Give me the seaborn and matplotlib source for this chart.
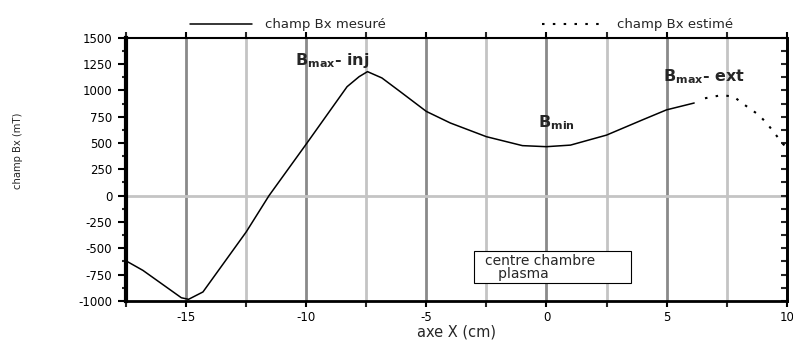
import matplotlib
matplotlib.use("Agg")
import matplotlib.pyplot as plt
import seaborn as sns
import pandas as pd
from matplotlib.ticker import MultipleLocator
from matplotlib.patches import Rectangle

# measured field
x_mes = [-17.5, -16.8, -15.2, -14.9, -14.3, -12.5, -11.55, -10, -8.3, -7.8, -7.45,
         -6.85, -6.1, -5, -4, -2.5, -1, 0, 1, 2.5, 4, 5, 6.15]
y_mes = [-620, -710, -970, -985, -915, -345, 0, 490, 1035, 1130, 1178,
         1118, 990, 800, 690, 560, 475, 465, 480, 575, 720, 815, 880]
# estimated field
x_est = [6.6, 7.3, 7.8, 8.2, 8.85, 9.2, 9.85, 10.0]
y_est = [925, 955, 940, 870, 765, 680, 490, 460]

labels = ["champ Bx mesuré", "champ Bx estimé"]
x_ticks = [-15, -10, -5, 0, 5, 10]
y_ticks = list(range(-1000, 1501, 250))

sns.set_style("white")
plt.rcParams['font.family'] = ['DejaVu Sans']
plt.rcParams['axes.unicode_minus'] = False

df_mes = pd.DataFrame({"x": x_mes, "y": y_mes})
df_est = pd.DataFrame({"x": x_est, "y": y_est})

fig = plt.figure(figsize=(7.93, 3.40), dpi=100)
ax = fig.add_axes([0.159, 0.115, 0.833, 0.774])

# grid lines
for gx in [-15, -12.5, -10, -7.5, -5, -2.5, 0, 2.5, 5, 7.5]:
    col = "#8a8a8a" if gx % 5 == 0 else "#c4c4c4"
    ax.axvline(gx, color=col, lw=2.0, zorder=0)
ax.axhline(0, color="#c4c4c4", lw=2.0, zorder=0)

sns.lineplot(data=df_mes, x="x", y="y", ax=ax, color="black", lw=1.1,
             label=labels[0], sort=False)
sns.lineplot(data=df_est, x="x", y="y", ax=ax, color="black", lw=1.5,
             label=labels[1], sort=False, linestyle=(0, (1.2, 4)))

ax.set_xlim(-17.5, 10)
ax.set_ylim(-1000, 1500)
ax.set_xticks(x_ticks)
ax.set_yticks(y_ticks)
ax.xaxis.set_minor_locator(MultipleLocator(2.5))
ax.yaxis.set_minor_locator(MultipleLocator(125))

ax.tick_params(axis='both', which='major', labelsize=8.5, colors='black')
ax.tick_params(axis='y', which='both', direction='out', left=True, right=False)
ax.tick_params(axis='y', which='major', length=6, width=1.5, pad=4)
ax.tick_params(axis='y', which='minor', length=3, width=1.5)
ax.tick_params(axis='x', which='both', direction='out', bottom=True, top=True,
               length=4, width=1.5)

# right spine ticks inward
ax2 = ax.secondary_yaxis('right')
ax2.set_yticks(y_ticks)
ax2.yaxis.set_minor_locator(MultipleLocator(125))
ax2.tick_params(axis='y', which='both', direction='in', length=4, width=1.5,
                labelright=False)
ax2.spines['right'].set_linewidth(2)

for s, w in [('left', 3), ('bottom', 2), ('top', 1.5), ('right', 2)]:
    ax.spines[s].set_visible(True)
    ax.spines[s].set_linewidth(w)
    ax.spines[s].set_color('black')

ax.set_xlabel("axe X (cm)", fontsize=10.5, labelpad=0)
ax.set_ylabel("champ Bx (mT)", fontsize=8, fontstretch='condensed',
              family=['Liberation Sans Narrow', 'DejaVu Sans'])
ax.yaxis.set_label_coords(-0.156, 0.57)

ax.legend(loc='lower left', bbox_to_anchor=(0.085, 0.995), ncol=2, frameon=False,
          fontsize=9.5, handlelength=4.7, columnspacing=11.8, borderaxespad=0.2,
          handletextpad=1.0)

ax.text(-10.45, 1240, r"B$_{\mathregular{max}}$- inj", fontsize=11.5,
        fontweight='bold', va='baseline')
ax.text(-0.35, 650, r"B$_{\mathregular{min}}$", fontsize=11.5,
        fontweight='bold', va='baseline')
ax.text(4.85, 1085, r"B$_{\mathregular{max}}$- ext", fontsize=11.5,
        fontweight='bold', va='baseline')

ax.add_patch(Rectangle((-3.03, -833), 6.53, 305, facecolor='white',
                       edgecolor='black', lw=0.8, zorder=3))
ax.text(-2.55, -685, "centre chambre\n   plasma", fontsize=10, va='center',
        ha='left', linespacing=0.95, zorder=4)

fig.savefig("out.png", dpi=100)
